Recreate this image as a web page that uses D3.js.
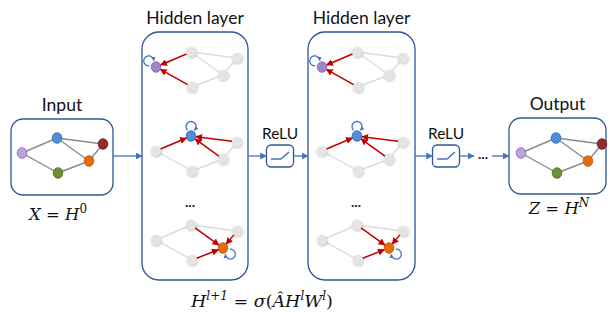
<!DOCTYPE html>
<html>
<head>
<meta charset="utf-8">
<script src="https://cdn.jsdelivr.net/npm/d3@7/dist/d3.min.js"></script>
<style>
  body { margin: 0; background: #fff; }
  svg { display: block; }
</style>
</head>
<body>
<svg id="chart" width="610" height="317"></svg>
<script>
// graph: 5 nodes, template layout relative to the purple node
var nodeNames  = ["purple", "blue", "red", "orange", "green"];
var nodeFill   = ["#bba3dc", "#4d8fdc", "#922b2b", "#e46c0a", "#6f8f35"];
var nodeStroke = ["#8560b0", "#2d62a6", "#6a1a1a", "#b65306", "#4d6823"];
var nodeDx     = [0, 35, 81, 67, 36];
var nodeDy     = [0, -15, -9, 8, 20];
var edgeList   = [[0, 1], [0, 4], [1, 2], [1, 3], [2, 3], [4, 3]];

// hidden layers: node being aggregated in each row, side of its self loop (deg)
var hiddenTargets = [0, 1, 3];
var loopAngles    = [-140, -90, 40];

var layerLabels = ["Input", "Hidden layer", "Hidden layer", "Output"];
var reluLabels  = ["ReLU", "ReLU"];

var svg = d3.select("#chart");
var defs = svg.append("defs");

function marker(id, color, size) {
  defs.append("marker")
      .attr("id", id)
      .attr("viewBox", "0 0 10 10")
      .attr("refX", 9).attr("refY", 5)
      .attr("markerUnits", "userSpaceOnUse")
      .attr("markerWidth", size).attr("markerHeight", size)
      .attr("orient", "auto")
    .append("path")
      .attr("d", "M0,0 L10,5 L0,10 z")
      .attr("fill", color);
}
marker("blueArrow", "#4472c4", 7);
marker("redArrow", "#c00000", 7);
marker("loopArrow", "#4472c4", 4);

var sh = defs.append("filter").attr("id", "shadow")
    .attr("x", "-50%").attr("y", "-50%").attr("width", "200%").attr("height", "200%");
sh.append("feDropShadow").attr("dx", 0.6).attr("dy", 1).attr("stdDeviation", 0.8)
    .attr("flood-color", "#9a9a9a").attr("flood-opacity", 0.6);

var boxStroke = "#2f5597";
var fontSans = "Lato, 'Open Sans', sans-serif";
var fontMath = "'DejaVu Serif', serif";

// boxes
var boxes = [
  {x: 11,  y: 119, w: 102, h: 76,  r: 12},
  {x: 142, y: 32,  w: 106, h: 248, r: 17},
  {x: 308, y: 32,  w: 107, h: 248, r: 17},
  {x: 509, y: 118, w: 97,  h: 76,  r: 12}
];
var midY = 156;

svg.selectAll("rect.layer")
  .data(boxes)
  .enter().append("rect")
    .attr("class", "layer")
    .attr("x", function(d){ return d.x; })
    .attr("y", function(d){ return d.y; })
    .attr("width", function(d){ return d.w; })
    .attr("height", function(d){ return d.h; })
    .attr("rx", function(d){ return d.r; })
    .attr("fill", "none")
    .attr("stroke", boxStroke)
    .attr("stroke-width", 1.3);

svg.selectAll("text.layerLabel")
  .data(layerLabels)
  .enter().append("text")
    .attr("class", "layerLabel")
    .attr("x", function(d, i){ return boxes[i].x + boxes[i].w / 2; })
    .attr("y", function(d, i){ return i == 1 || i == 2 ? 24 : boxes[i].y - 8; })
    .attr("text-anchor", "middle")
    .attr("font-family", fontSans)
    .attr("font-size", 17.5)
    .attr("fill", "#111")
    .text(function(d){ return d; });

// positions of the template graph
function placeGraph(px, py) {
  var x = d3.scaleLinear().domain([0, 1]).range([px, px + 1]);
  var y = d3.scaleLinear().domain([0, 1]).range([py, py + 1]);
  return nodeNames.map(function(n, i){ return {x: x(nodeDx[i]), y: y(nodeDy[i]), i: i}; });
}

function drawFullGraph(g, pts) {
  g.selectAll("line")
    .data(edgeList)
    .enter().append("line")
      .attr("x1", function(e){ return pts[e[0]].x; })
      .attr("y1", function(e){ return pts[e[0]].y; })
      .attr("x2", function(e){ return pts[e[1]].x; })
      .attr("y2", function(e){ return pts[e[1]].y; })
      .attr("stroke", "#8a8a8a")
      .attr("stroke-width", 1.4);
  g.selectAll("ellipse")
    .data(pts)
    .enter().append("ellipse")
      .attr("cx", function(d){ return d.x; })
      .attr("cy", function(d){ return d.y; })
      .attr("rx", 4.8).attr("ry", 5.3)
      .attr("fill", function(d){ return nodeFill[d.i]; })
      .attr("stroke", function(d){ return nodeStroke[d.i]; })
      .attr("stroke-width", 0.8);
}

function shorten(a, b, s0, s1) {
  var dx = b.x - a.x, dy = b.y - a.y, L = Math.sqrt(dx * dx + dy * dy);
  return {x1: a.x + dx / L * s0, y1: a.y + dy / L * s0,
          x2: b.x - dx / L * s1, y2: b.y - dy / L * s1};
}

function drawHiddenGraph(g, pts, t, ang) {
  var gray = edgeList.filter(function(e){ return e[0] != t && e[1] != t; });
  var red = edgeList.filter(function(e){ return e[0] == t || e[1] == t; })
    .map(function(e){ return e[0] == t ? e[1] : e[0]; });

  g.selectAll("line.gray")
    .data(gray)
    .enter().append("line")
      .attr("class", "gray")
      .attr("x1", function(e){ return pts[e[0]].x; })
      .attr("y1", function(e){ return pts[e[0]].y; })
      .attr("x2", function(e){ return pts[e[1]].x; })
      .attr("y2", function(e){ return pts[e[1]].y; })
      .attr("stroke", "#dcdcdc")
      .attr("stroke-width", 1.4);

  g.selectAll("circle.grayNode")
    .data(pts.filter(function(p){ return p.i != t; }))
    .enter().append("circle")
      .attr("class", "grayNode")
      .attr("cx", function(d){ return d.x; })
      .attr("cy", function(d){ return d.y; })
      .attr("r", 5.3)
      .attr("fill", "#e4e4e4")
      .attr("filter", "url(#shadow)");

  g.selectAll("line.red")
    .data(red)
    .enter().append("line")
      .attr("class", "red")
      .each(function(s){
        var c = shorten(pts[s], pts[t], 5, 5);
        d3.select(this).attr("x1", c.x1).attr("y1", c.y1).attr("x2", c.x2).attr("y2", c.y2);
      })
      .attr("stroke", "#c00000")
      .attr("stroke-width", 1.5)
      .attr("marker-end", "url(#redArrow)");

  // self loop: circle outside the node, open where it touches the node
  var a = ang * Math.PI / 180, d = 9.5, r = 5;
  var cx = pts[t].x + d * Math.cos(a), cy = pts[t].y + d * Math.sin(a);
  var back = a + Math.PI;
  var p1 = [cx + r * Math.cos(back + 0.75), cy + r * Math.sin(back + 0.75)];
  var p2 = [cx + r * Math.cos(back - 0.75), cy + r * Math.sin(back - 0.75)];
  g.append("path")
    .attr("d", "M" + p1 + " A" + r + "," + r + " 0 1 1 " + p2)
    .attr("fill", "none")
    .attr("stroke", "#4472c4")
    .attr("stroke-width", 1.3)
    .attr("marker-end", "url(#loopArrow)");

  g.append("ellipse")
    .attr("cx", pts[t].x).attr("cy", pts[t].y)
    .attr("rx", 4.8).attr("ry", 5.3)
    .attr("fill", t == 0 ? "#a088c8" : nodeFill[t])
    .attr("stroke", nodeStroke[t])
    .attr("stroke-width", 0.8);
}

// input and output graphs
drawFullGraph(svg.append("g"), placeGraph(22, 153));
drawFullGraph(svg.append("g"), placeGraph(521, 153));

// hidden layers
var rowY = [67, 151, 240];
[156, 322].forEach(function(px, k){
  hiddenTargets.forEach(function(t, j){
    drawHiddenGraph(svg.append("g"), placeGraph(px, rowY[j]), t, loopAngles[j]);
  });
  svg.append("text")
    .attr("x", px + 34).attr("y", 207)
    .attr("text-anchor", "middle")
    .attr("font-family", fontSans)
    .attr("font-size", 14)
    .attr("font-weight", "bold")
    .attr("fill", "#222")
    .text("...");
});

// ReLU blocks
var reluX = [280, 446];
reluX.forEach(function(cx, i){
  var g = svg.append("g");
  g.append("text")
    .attr("x", cx).attr("y", 139)
    .attr("text-anchor", "middle")
    .attr("font-family", fontSans)
    .attr("font-size", 15.5)
    .attr("fill", "#111")
    .text(reluLabels[i]);
  g.append("rect")
    .attr("x", cx - 13.5).attr("y", midY - 11)
    .attr("width", 27).attr("height", 22).attr("rx", 4.5)
    .attr("fill", "#fff")
    .attr("stroke", boxStroke)
    .attr("stroke-width", 1.3);
  g.append("path")
    .attr("d", "M" + (cx - 9) + "," + (midY + 3) + " L" + (cx + 1) + "," + (midY + 3) +
               " L" + (cx + 9) + "," + (midY - 4))
    .attr("fill", "none")
    .attr("stroke", "#4472c4")
    .attr("stroke-width", 1.5);
});

// blue connectors
var links = [
  [boxes[0].x + boxes[0].w, boxes[1].x],
  [boxes[1].x + boxes[1].w, reluX[0] - 13.5],
  [reluX[0] + 13.5, boxes[2].x],
  [boxes[2].x + boxes[2].w, reluX[1] - 13.5],
  [reluX[1] + 13.5, 474],
  [492, boxes[3].x]
];
svg.selectAll("line.link")
  .data(links)
  .enter().append("line")
    .attr("class", "link")
    .attr("x1", function(d){ return d[0]; })
    .attr("x2", function(d){ return d[1]; })
    .attr("y1", midY).attr("y2", midY)
    .attr("stroke", "#4472c4")
    .attr("stroke-width", 1.3)
    .attr("marker-end", "url(#blueArrow)");

svg.append("text")
  .attr("x", 483).attr("y", 159)
  .attr("text-anchor", "middle")
  .attr("font-family", fontSans)
  .attr("font-size", 14)
  .attr("font-weight", "bold")
  .attr("fill", "#222")
  .text("...");

// math labels; parts flagged sup are raised and smaller
function mathText(x, y, size, parts) {
  var t = svg.append("text")
    .attr("x", x).attr("y", y)
    .attr("text-anchor", "middle")
    .attr("font-family", fontMath)
    .attr("font-size", size)
    .attr("fill", "#111");
  var raised = false, lift = Math.round(size * 0.42);
  parts.forEach(function(p){
    var s = t.append("tspan").text(p.t);
    if (p.i) s.attr("font-style", "italic");
    if (p.sup) s.attr("font-size", Math.round(size * 0.7));
    if (p.sup && !raised) s.attr("dy", -lift);
    if (!p.sup && raised) s.attr("dy", lift);
    raised = !!p.sup;
  });
}

mathText(58, 220, 16.5, [{t: "X", i: 1}, {t: " = "}, {t: "H", i: 1}, {t: "0", sup: 1}]);
mathText(559, 214, 16.5, [{t: "Z", i: 1}, {t: " = "}, {t: "H", i: 1}, {t: "N", i: 1, sup: 1}]);
mathText(262, 307, 17.5, [
  {t: "H", i: 1}, {t: "l+1", i: 1, sup: 1},
  {t: " = "}, {t: "σ", i: 1}, {t: "("},
  {t: "Â", i: 1}, {t: "H", i: 1}, {t: "l", i: 1, sup: 1},
  {t: "W", i: 1}, {t: "l", i: 1, sup: 1}, {t: ")"}
]);
</script>
</body>
</html>
